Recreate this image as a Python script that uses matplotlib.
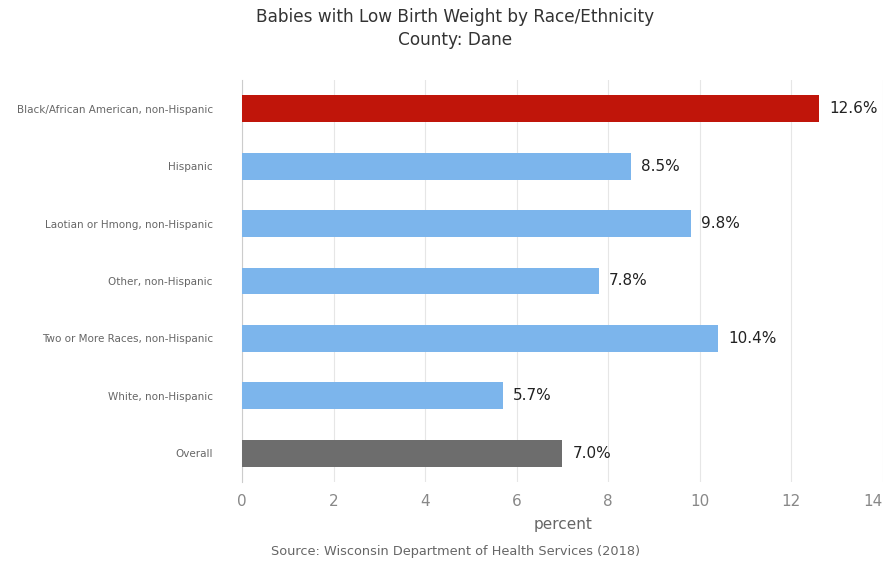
import matplotlib
matplotlib.use("Agg")
import matplotlib.pyplot as plt

categories = [
    "Black/African American, non-Hispanic",
    "Hispanic",
    "Laotian or Hmong, non-Hispanic",
    "Other, non-Hispanic",
    "Two or More Races, non-Hispanic",
    "White, non-Hispanic",
    "Overall",
]
values = [12.6, 8.5, 9.8, 7.8, 10.4, 5.7, 7.0]
bar_colors = ["#c0150a", "#7cb5ec", "#7cb5ec", "#7cb5ec", "#7cb5ec", "#7cb5ec", "#6d6d6d"]
x_ticks = [0, 2, 4, 6, 8, 10, 12, 14]

fig = plt.figure(figsize=(8.87, 5.63), dpi=100)
ax = fig.add_axes([242 / 887, 1 - 482 / 563, (883 - 242) / 887, (482 - 80) / 563])

ypos = list(range(len(categories)))
ax.barh(ypos, values, height=0.47, color=bar_colors, zorder=3)
for y, v in zip(ypos, values):
    ax.text(v + 0.22, y, f"{v:.1f}%", va="center", ha="left", fontsize=11, color="#222222")

ax.set_ylim(len(categories) - 0.5, -0.5)
ax.set_yticks(ypos)
ax.set_yticklabels(categories, fontsize=7.5, color="#666666")
ax.set_xlim(0, 14)
ax.set_xticks(x_ticks)
ax.set_xticklabels([str(t) for t in x_ticks], fontsize=11, color="#888888")
# last tick label kept inside the figure, like the original
ax.get_xticklabels()[-1].set_horizontalalignment("right")
ax.tick_params(axis="both", length=0)
ax.tick_params(axis="x", pad=9)
ax.tick_params(axis="y", pad=21)
ax.grid(axis="x", color="#e6e6e6", linewidth=0.8, zorder=0)
for side in ["top", "right", "bottom"]:
    ax.spines[side].set_visible(False)
ax.spines["left"].set_color("#cccccc")

fig.text(455 / 887, 1 - 17 / 563, "Babies with Low Birth Weight by Race/Ethnicity",
         ha="center", va="center", fontsize=12.2, color="#333333")
fig.text(455 / 887, 1 - 40 / 563, "County: Dane",
         ha="center", va="center", fontsize=12.2, color="#333333")
fig.text(563 / 887, 1 - 525 / 563, "percent", ha="center", va="center", fontsize=11, color="#666666")
fig.text(456 / 887, 1 - 551 / 563, "Source: Wisconsin Department of Health Services (2018)",
         ha="center", va="center", fontsize=9.3, color="#666666")

fig.savefig("out.png", dpi=100)
